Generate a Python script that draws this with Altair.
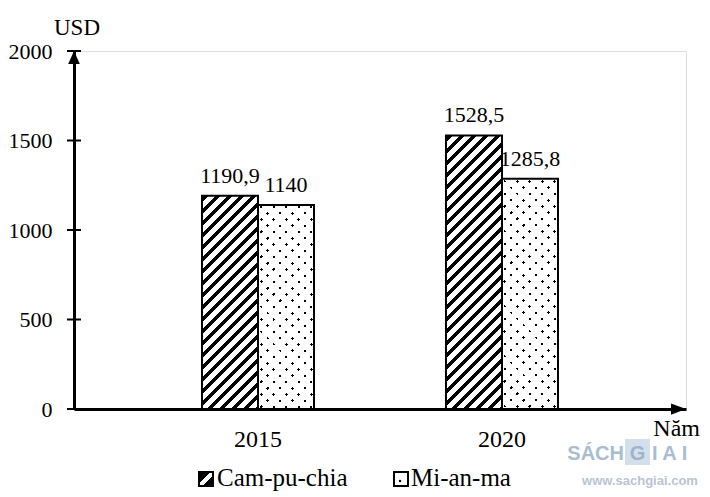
import altair as alt
import pandas as pd

# ---------------- data ----------------
years = ["2015", "2020"]
series = ["Cam-pu-chia", "Mi-an-ma"]
cam_values = [1190.9, 1528.5]
mya_values = [1140.0, 1285.8]
cam_labels = ["1190,9", "1528,5"]
mya_labels = ["1140", "1285,8"]
y_ticks = [0, 500, 1000, 1500, 2000]
y_title = "USD"
x_title = "Năm"
wm_left = "SÁCH"
wm_mid = "G"
wm_right = "I A I"
wm_url = "www.sachgiai.com"

# ---------------- layout / style ----------------
PLOT_W, PLOT_H = 612, 358
Y_MAX = y_ticks[-1]
BAR_W = 56
SERIF = "Liberation Serif"
SANS = "Liberation Sans"
CLEAR = "rgba(255,255,255,0)"

df = pd.DataFrame({
    "year": years + years,
    "series": [series[0]] * len(years) + [series[1]] * len(years),
    "value": cam_values + mya_values,
    "label": cam_labels + mya_labels,
})
ticks_df = pd.DataFrame({"value": y_ticks})
one = pd.DataFrame({"k": [0]})


def bar_h(v):
    return v / Y_MAX * PLOT_H


def stripe_fill(W, H, period, width, phase, slope, on, off):
    """Linear gradient giving 45-degree stripes inside a W x H box."""
    L = W + H
    s = L / (W * W + H * H)
    if slope == "/":
        x1, y1, x2, y2 = 0, 0, W * s, H * s
    else:
        x1, y1, x2, y2 = 0, 1, W * s, 1 - H * s
    stops = [{"offset": 0.0, "color": off}]
    k = -2
    while True:
        a = phase + k * period
        if a > L:
            break
        b = a + width
        a_, b_ = max(a, 0.0), min(b, L)
        if b_ > a_:
            for t, col in ((a_, off), (a_, on), (b_, on), (b_, off)):
                stops.append({"offset": round(t / L, 5), "color": col})
        k += 1
    stops.append({"offset": 1.0, "color": off})
    return {"gradient": "linear", "x1": x1, "y1": y1,
            "x2": round(x2, 5), "y2": round(y2, 5), "stops": stops}


x_enc = alt.X(
    "year:N",
    scale=alt.Scale(domain=years, paddingInner=0.541, paddingOuter=0.5246),
    axis=alt.Axis(title=None, labelFont=SERIF, labelFontSize=24, labelColor="black",
                  labelAngle=0, ticks=False, tickSize=0, domainWidth=3,
                  domainColor="black", labelPadding=37, labelBaseline="alphabetic"),
)
xo_enc = alt.XOffset("series:N", scale=alt.Scale(domain=series, paddingInner=0, paddingOuter=0))
y_enc = alt.Y(
    "value:Q",
    scale=alt.Scale(domain=[0, Y_MAX], nice=False),
    axis=alt.Axis(values=y_ticks, format="d", title=None, grid=False, ticks=False, tickSize=0,
                  domainWidth=3, domainColor="black", labelFont=SERIF,
                  labelFontSize=22, labelColor="black", labelPadding=22),
)

base = alt.Chart(df).encode(x=x_enc, xOffset=xo_enc, y=y_enc)

layers = []
# Cam-pu-chia bars: diagonal hatching
for yr, v in zip(years, cam_values):
    g = stripe_fill(BAR_W, bar_h(v), period=12, width=5, phase=2, slope="/",
                    on="black", off="white")
    layers.append(
        base.transform_filter((alt.datum.series == series[0]) & (alt.datum.year == yr))
        .mark_bar(fill=g, stroke="black", strokeWidth=2)
    )
# Mi-an-ma bars: dotted (lines "/" masked by "\" stripes -> staggered dots)
for yr, v in zip(years, mya_values):
    h = bar_h(v)
    g1 = stripe_fill(BAR_W, h, period=12.5, width=3, phase=4, slope="/",
                     on="black", off="white")
    g2 = stripe_fill(BAR_W, h, period=12.5, width=3, phase=4, slope="\\",
                     on=CLEAR, off="white")
    flt = (alt.datum.series == series[1]) & (alt.datum.year == yr)
    layers.append(base.transform_filter(flt).mark_bar(fill=g1, strokeWidth=0))
    layers.append(base.transform_filter(flt).mark_bar(fill=g2, stroke="black", strokeWidth=2))

# value labels
layers.append(
    base.mark_text(font=SERIF, fontSize=22, color="black", baseline="alphabetic", dy=-13)
    .encode(text="label:N")
)

# y tick marks crossing the axis
layers.append(
    alt.Chart(ticks_df).mark_rule(color="black", strokeWidth=2)
    .encode(y=y_enc, x=alt.value(-7), x2=alt.value(7))
)

# arrow heads
layers.append(
    alt.Chart(pd.DataFrame({"value": [Y_MAX]}))
    .mark_point(shape="M0,-1L-0.9,1L0.9,1Z", size=169, filled=True, color="black",
                opacity=1, yOffset=6.5)
    .encode(y=y_enc, x=alt.value(0))
)
layers.append(
    alt.Chart(pd.DataFrame({"value": [0]}))
    .mark_point(shape="M1,0L-1,-0.75L-1,0.75Z", size=225, filled=True, color="black",
                opacity=1)
    .encode(y=y_enc, x=alt.value(PLOT_W - 7.5))
)

# axis titles
layers.append(
    alt.Chart(pd.DataFrame({"t": [y_title]}))
    .mark_text(font=SERIF, fontSize=23, color="black", align="center", baseline="alphabetic")
    .encode(text="t:N", x=alt.value(3), y=alt.value(-16))
)
layers.append(
    alt.Chart(pd.DataFrame({"t": [x_title]}))
    .mark_text(font=SERIF, fontSize=24, color="black", align="right", baseline="alphabetic")
    .encode(text="t:N", x=alt.value(626), y=alt.value(385))
)

# legend
leg_hatch = {"gradient": "linear", "x1": 0, "y1": 0, "x2": 1, "y2": 1, "stops": [
    {"offset": 0.0, "color": "black"}, {"offset": 0.4, "color": "black"},
    {"offset": 0.4, "color": "white"}, {"offset": 0.62, "color": "white"},
    {"offset": 0.62, "color": "black"}, {"offset": 1.0, "color": "black"}]}
layers.append(
    alt.Chart(one).mark_rect(fill=leg_hatch, stroke="black", strokeWidth=2)
    .encode(x=alt.value(125), x2=alt.value(139), y=alt.value(421), y2=alt.value(435))
)
layers.append(
    alt.Chart(one).mark_rect(fill="white", stroke="black", strokeWidth=2)
    .encode(x=alt.value(320), x2=alt.value(334), y=alt.value(421), y2=alt.value(435))
)
layers.append(
    alt.Chart(one).mark_square(size=5, color="black", opacity=1)
    .encode(x=alt.value(326), y=alt.value(430))
)
layers.append(
    alt.Chart(pd.DataFrame({"t": [series[0]]}))
    .mark_text(font=SERIF, fontSize=25, color="black", align="left", baseline="alphabetic")
    .encode(text="t:N", x=alt.value(143), y=alt.value(435))
)
layers.append(
    alt.Chart(pd.DataFrame({"t": [series[1]]}))
    .mark_text(font=SERIF, fontSize=25, color="black", align="left", baseline="alphabetic")
    .encode(text="t:N", x=alt.value(337), y=alt.value(435))
)

# watermark
WM = "#a9bdd1"
layers.append(
    alt.Chart(one).mark_rect(fill="#d3e0ec")
    .encode(x=alt.value(551), x2=alt.value(576), y=alt.value(388), y2=alt.value(414))
)
layers.append(
    alt.Chart(pd.DataFrame({"t": [wm_left]}))
    .mark_text(font=SANS, fontSize=20, fontWeight="bold", color=WM, align="right",
               baseline="alphabetic")
    .encode(text="t:N", x=alt.value(550), y=alt.value(409))
)
layers.append(
    alt.Chart(pd.DataFrame({"t": [wm_mid]}))
    .mark_text(font=SANS, fontSize=20, fontWeight="bold", color="#9fb4c9", align="center",
               baseline="alphabetic")
    .encode(text="t:N", x=alt.value(563.5), y=alt.value(409))
)
layers.append(
    alt.Chart(pd.DataFrame({"t": [wm_right]}))
    .mark_text(font=SANS, fontSize=20, fontWeight="bold", color=WM, align="left",
               baseline="alphabetic")
    .encode(text="t:N", x=alt.value(578), y=alt.value(409))
)
layers.append(
    alt.Chart(pd.DataFrame({"t": [wm_url]}))
    .mark_text(font=SANS, fontSize=13, fontWeight="bold", color="#b7c5d2", align="center",
               baseline="alphabetic")
    .encode(text="t:N", x=alt.value(566), y=alt.value(434))
)

chart = (
    alt.layer(*layers)
    .properties(width=PLOT_W, height=PLOT_H, autosize="none",
                padding={"left": 74, "top": 51, "right": 24, "bottom": 88})
    .configure_view(stroke=None)
    .configure(background="white")
)

chart.save("out.html", embed_options={"renderer": "svg", "actions": False})
